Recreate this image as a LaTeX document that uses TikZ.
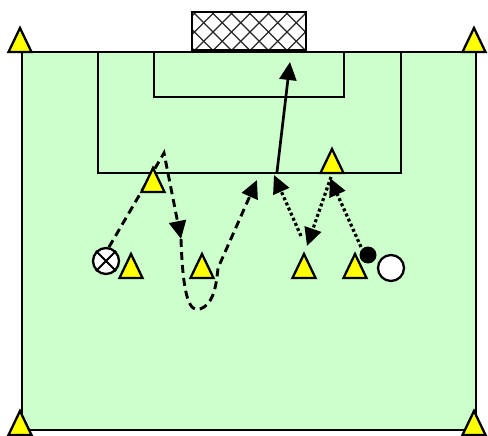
\documentclass[tikz,border=0pt]{standalone}
\usetikzlibrary{arrows.meta}
\definecolor{pitch}{HTML}{CCFFCC}
\definecolor{conefill}{HTML}{FFFF00}
\tikzset{
  fieldline/.style={draw=black, line width=2.5pt},
  hatch/.style={draw=black!85, line width=1.2pt},
  tiphead/.style={-{Triangle[length=18pt,width=17pt]}},
  runpath/.style={line width=2.9pt, dash pattern=on 8pt off 5pt, tiphead},
  passpath/.style={line width=3.2pt, dash pattern=on 3pt off 2.6pt, tiphead},
  shotpath/.style={line width=2.7pt, tiphead},
  playerdisc/.style={circle, draw=black, fill=white, line width=2.3pt, minimum size=26pt, inner sep=0pt},
  balldisc/.style={circle, fill=black, minimum size=17pt, inner sep=0pt},
  cone/.pic={\draw[line width=2.3pt, fill=conefill, line join=miter] (-11.5,0) -- (0,-24) -- (11.5,0) -- cycle;}
}
\begin{document}
\begin{tikzpicture}[x=1pt,y=-1pt]
\useasboundingbox (0,0) rectangle (488,436);

% pitch and markings
\fill[pitch] (22,52) rectangle (476,430);
\draw[fieldline] (22,52) rectangle (476,430);
\draw[fieldline] (98,52) rectangle (401,173);
\draw[fieldline] (154,52) rectangle (344,97);

% goal with net
\fill[white] (192,12) rectangle (306,50);
\begin{scope}
  \clip (192,12) rectangle (306,50);
  \foreach \k in {0,...,10} {
    \draw[hatch] (150+\k*18.5,58) -- ++(52,-52);
    \draw[hatch] (150+\k*18.5,6) -- ++(52,52);
  }
\end{scope}
\draw[fieldline] (192,12) rectangle (306,50);

% players and ball
\node[playerdisc] (xp) at (106,261) {};
\draw[line width=2pt] (xp.45) -- (xp.225) (xp.135) -- (xp.315);
\node[balldisc] (ball) at (368,255) {};
\node[playerdisc] (wp) at (391,268) {};

% key points of the runs and passes
\coordinate (turnA) at (164,153);
\coordinate (runA) at (181,239);
\coordinate (runB) at (257,180);
\coordinate (shotS) at (277,172);
\coordinate (shotE) at (290,62);
\coordinate (passA1) at (331,177);
\coordinate (passA2) at (307,246);
\coordinate (passB1) at (301,236);
\coordinate (passB2) at (274,175);
\coordinate (passC1) at (361,247);
\coordinate (passC2) at (330,178);

% runs
\draw[runpath] (xp.78) -- (turnA) -- (runA);
\draw[runpath] (runA) .. controls (183,300) and (190,312) .. (200,309)
  .. controls (212,305) and (216,290) .. (218,268) -- (runB);

% shot
\draw[shotpath] (shotS) -- (shotE);

% passes
\draw[passpath] (passA1) -- (passA2);
\draw[passpath] (passB1) -- (passB2);
\draw[passpath] (passC1) -- (passC2);

% cones
\foreach \cx/\cy in {20/52, 474/52, 20/435, 474/435,
                     153/192, 131/278, 202/278, 332/173, 304/278, 355/278}
  \pic at (\cx,\cy) {cone};
\end{tikzpicture}
\end{document}
